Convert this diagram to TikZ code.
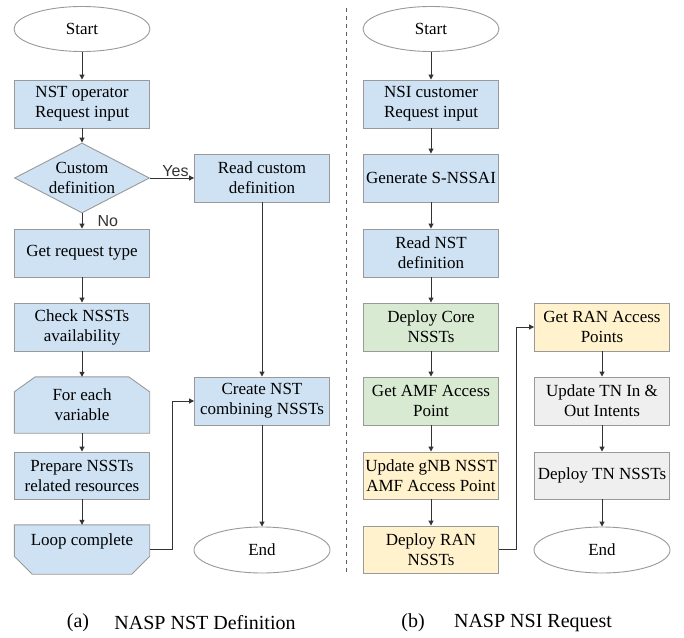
\documentclass[tikz,border=0pt]{standalone}
\usepackage{fontspec}
\setmainfont{Liberation Serif}
\newfontfamily\yesnofont{Liberation Sans}
\usepackage{tikz}
\usetikzlibrary{shapes.geometric,arrows.meta,positioning,backgrounds}

\definecolor{boxblue}{RGB}{207,226,243}
\definecolor{boxgreen}{RGB}{217,234,211}
\definecolor{boxyellow}{RGB}{255,242,204}
\definecolor{boxgray}{RGB}{239,239,239}
\definecolor{boxline}{RGB}{153,153,153}

\begin{document}
\begin{tikzpicture}[x=1pt,y=-1pt,
    txt/.style={font=\fontsize{17}{20}\selectfont, align=center},
    proc/.style={txt, draw=boxline, line width=0.9pt, inner sep=0pt, minimum width=135pt, minimum height=48pt},
    term/.style={txt, ellipse, draw=boxline, line width=0.9pt, fill=white, inner sep=0pt, minimum width=136pt, minimum height=45pt},
    loopbox/.style={txt, inner sep=0pt, minimum width=135pt, minimum height=48pt},
    outline/.style={draw=boxline, line width=0.9pt, fill=boxblue},
    flow/.style={-{Triangle[length=5pt,width=5pt]}, line width=1pt, color=black!80},
    yesno/.style={font=\yesnofont\fontsize{16}{18}\selectfont, inner sep=1pt}
  ]
  \useasboundingbox (0,0) rectangle (684,637);

  % (a) NST definition
  \node[term] (startA) at (82,29) {Start};
  \node[proc, fill=boxblue] (opreq) at (82,104) {NST operator\\Request input};
  \node[txt, diamond, draw=boxline, line width=0.9pt, fill=boxblue, inner sep=0pt, aspect=1.93, minimum width=135pt, minimum height=70pt] (custom) at (82,178) {Custom\\definition};
  \node[proc, fill=boxblue] (reqtype) at (82,253) {Get request type};
  \node[proc, fill=boxblue] (avail) at (82,327) {Check NSSTs\\availability};
  \node[loopbox, minimum height=56pt] (foreach) at (82,405) {For each\\variable};
  \node[proc, fill=boxblue, minimum height=47pt] (prepare) at (82,475.5) {Prepare NSSTs\\related resources};
  \node[loopbox, minimum height=49pt] (loopdone) at (82,549.5) {Loop complete\\\phantom{x}};

  % loop limit shapes
  \begin{scope}[on background layer]
    \draw[outline] ([xshift=21pt]foreach.north west) -- ([xshift=-21pt]foreach.north east)
      -- ([yshift=-15pt]foreach.north east) -- (foreach.south east)
      -- (foreach.south west) -- ([yshift=-15pt]foreach.north west) -- cycle;
    \draw[outline] (loopdone.north west) -- (loopdone.north east)
      -- ([yshift=18pt]loopdone.south east) -- ([xshift=-18pt]loopdone.south east)
      -- ([xshift=18pt]loopdone.south west) -- ([yshift=18pt]loopdone.south west) -- cycle;
  \end{scope}

  \node[proc, fill=boxblue] (readcustom) at (262,178) {Read custom\\definition};
  \node[proc, fill=boxblue] (createnst) at (262,401) {Create NST\\combining NSSTs};
  \node[term, minimum height=46pt] (endA) at (262,550) {End};

  \draw[flow] (startA) -- (opreq);
  \draw[flow] (opreq) -- (custom);
  \draw[flow] (custom.east) -- node[yesno, above, pos=0.58] (yes) {Yes} (readcustom.west);
  \draw[flow] (custom.south) -- node[yesno, right=14pt] (no) {No} (reqtype.north);
  \draw[flow] (reqtype) -- (avail);
  \draw[flow] (avail) -- (foreach);
  \draw[flow] (foreach) -- (prepare);
  \draw[flow] (prepare) -- (loopdone);
  \draw[flow] (readcustom) -- (createnst);
  \draw[flow] (loopdone.east) -- ++(23,0) |- (createnst.west);
  \draw[flow] (createnst) -- (endA);

  % separator
  \coordinate (sepTop) at (346,8);
  \coordinate (sepBot) at (346,573);
  \draw[dash pattern=on 4pt off 4pt, line width=0.9pt, color=black!65] (sepTop) -- (sepBot);

  % (b) NSI request
  \node[term] (startB) at (431,29) {Start};
  \node[proc, fill=boxblue] (nsireq) at (431,104) {NSI customer\\Request input};
  \node[proc, fill=boxblue] (snssai) at (431,178) {Generate S-NSSAI};
  \node[proc, fill=boxblue] (readnst) at (431,253) {Read NST\\definition};
  \node[proc, fill=boxgreen] (core) at (431,327) {Deploy Core\\NSSTs};
  \node[proc, fill=boxgreen] (amf) at (431,401) {Get AMF Access\\Point};
  \node[proc, fill=boxyellow, minimum height=47pt] (gnb) at (431,475.5) {Update gNB NSST\\AMF Access Point};
  \node[proc, fill=boxyellow, minimum height=47pt] (ran) at (431,549.5) {Deploy RAN\\NSSTs};

  \node[proc, fill=boxyellow] (ranap) at (602,327) {Get RAN Access\\Points};
  \node[proc, fill=boxgray] (tnint) at (602,401) {Update TN In \&\\Out Intents};
  \node[proc, fill=boxgray, minimum height=47pt] (tndeploy) at (602,475.5) {Deploy TN NSSTs};
  \node[term, minimum height=46pt] (endB) at (602,550) {End};

  \draw[flow] (startB) -- (nsireq);
  \draw[flow] (nsireq) -- (snssai);
  \draw[flow] (snssai) -- (readnst);
  \draw[flow] (readnst) -- (core);
  \draw[flow] (core) -- (amf);
  \draw[flow] (amf) -- (gnb);
  \draw[flow] (gnb) -- (ran);
  \draw[flow] (ran.east) -- ++(18,0) |- (ranap.west);
  \draw[flow] (ranap) -- (tnint);
  \draw[flow] (tnint) -- (tndeploy);
  \draw[flow] (tndeploy) -- (endB);

  % captions
  \node[font=\fontsize{20}{22}\selectfont] (capAtag) at (78,623) {(a)};
  \node[font=\fontsize{20}{22}\selectfont] (capA) at (205,623) {NASP NST Definition};
  \node[font=\fontsize{20}{22}\selectfont] (capBtag) at (413,623) {(b)};
  \node[font=\fontsize{20}{22}\selectfont] (capB) at (533,623) {NASP NSI Request};
\end{tikzpicture}
\end{document}
